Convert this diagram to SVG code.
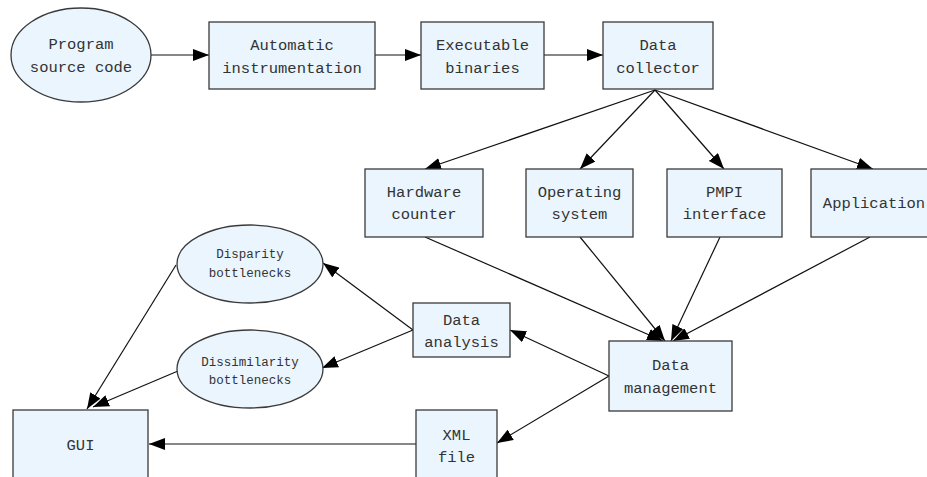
<svg xmlns="http://www.w3.org/2000/svg" width="927" height="477" viewBox="0 0 927 477">
<style>
.n{fill:#eaf5fe;stroke:#3a3a3a;stroke-width:1.3}
.t{font-family:"Liberation Mono","DejaVu Sans Mono",monospace;font-size:15.5px;fill:#333;text-anchor:middle}
.s{font-size:12.5px}
.c line{stroke:#111;stroke-width:1.2;marker-end:url(#a)}
</style>
<defs>
<marker id="a" markerUnits="userSpaceOnUse" markerWidth="16" markerHeight="12" viewBox="0 0 16 12" refX="16" refY="6" orient="auto">
<path d="M0,0 L16,6 L0,12 Z" fill="#000"/>
</marker>
</defs>
<rect width="927" height="477" fill="#fff"/>
<g class="c">
<line x1="151" y1="55" x2="209" y2="55"/>
<line x1="375" y1="55" x2="421" y2="55"/>
<line x1="544" y1="55" x2="603" y2="55"/>
<line x1="655" y1="90" x2="425" y2="169"/>
<line x1="655" y1="90" x2="580" y2="169"/>
<line x1="655" y1="90" x2="724" y2="169"/>
<line x1="655" y1="90" x2="873" y2="169"/>
<line x1="425" y1="237" x2="663" y2="341"/>
<line x1="580" y1="237" x2="665" y2="341"/>
<line x1="720" y1="237" x2="671" y2="341"/>
<line x1="870" y1="237" x2="673" y2="341"/>
<line x1="609" y1="376" x2="510" y2="330"/>
<line x1="609" y1="376" x2="497" y2="443"/>
<line x1="413" y1="330" x2="323" y2="263"/>
<line x1="413" y1="330" x2="322" y2="368"/>
<line x1="176" y1="265" x2="87" y2="409"/>
<line x1="178" y1="371" x2="93" y2="407"/>
<line x1="416" y1="444" x2="149" y2="444"/>
</g>
<g id="program"><ellipse class="n" cx="81" cy="55" rx="70" ry="47"/><text class="t" x="81" y="49">Program</text><text class="t" x="81" y="72">source code</text></g>
<g id="instr"><rect class="n" x="209" y="22" width="166" height="67"/><text class="t" x="292" y="50">Automatic</text><text class="t" x="292" y="73">instrumentation</text></g>
<g id="exec"><rect class="n" x="421" y="22" width="123" height="67"/><text class="t" x="482.5" y="50">Executable</text><text class="t" x="482.5" y="73">binaries</text></g>
<g id="collector"><rect class="n" x="603" y="22" width="110" height="67"/><text class="t" x="658" y="50">Data</text><text class="t" x="658" y="73">collector</text></g>
<g id="hw"><rect class="n" x="365" y="169" width="118" height="68"/><text class="t" x="424" y="197">Hardware</text><text class="t" x="424" y="219">counter</text></g>
<g id="os"><rect class="n" x="526" y="169" width="107" height="68"/><text class="t" x="579.5" y="197">Operating</text><text class="t" x="579.5" y="219">system</text></g>
<g id="pmpi"><rect class="n" x="667" y="169" width="115" height="68"/><text class="t" x="724.5" y="197">PMPI</text><text class="t" x="724.5" y="219">interface</text></g>
<g id="app"><rect class="n" x="811" y="169" width="125" height="68"/><text class="t" x="874" y="208">Application</text></g>
<g id="disparity"><ellipse class="n" cx="250" cy="264" rx="73" ry="39"/><text class="t s" x="250" y="258">Disparity</text><text class="t s" x="250" y="277">bottlenecks</text></g>
<g id="analysis"><rect class="n" x="413" y="303" width="97" height="54"/><text class="t" x="461.5" y="325">Data</text><text class="t" x="461.5" y="347">analysis</text></g>
<g id="dissimilarity"><ellipse class="n" cx="250" cy="369" rx="73" ry="39"/><text class="t s" x="250" y="366">Dissimilarity</text><text class="t s" x="250" y="384">bottlenecks</text></g>
<g id="mgmt"><rect class="n" x="609" y="341" width="123" height="70"/><text class="t" x="670.5" y="370">Data</text><text class="t" x="670.5" y="393">management</text></g>
<g id="gui"><rect class="n" x="13" y="410" width="135" height="75"/><text class="t" x="80.5" y="450">GUI</text></g>
<g id="xml"><rect class="n" x="416" y="410" width="81" height="75"/><text class="t" x="456.5" y="440">XML</text><text class="t" x="456.5" y="462">file</text></g>
</svg>
